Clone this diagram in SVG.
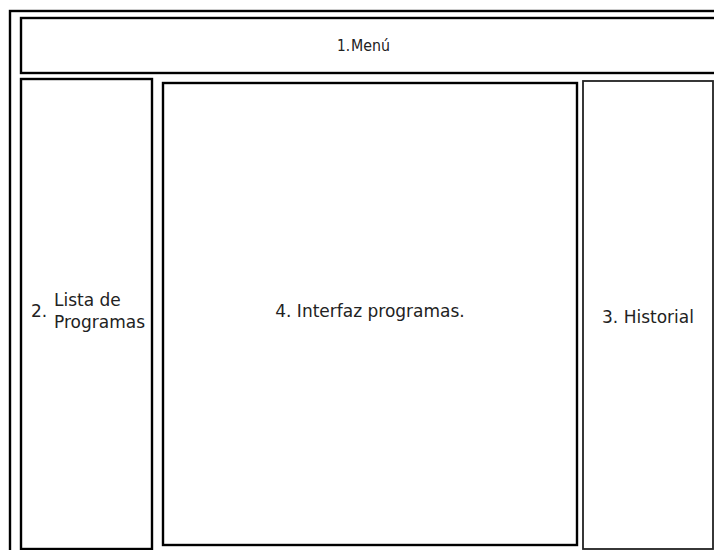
<svg xmlns="http://www.w3.org/2000/svg" width="714" height="550" viewBox="0 0 714 550">
  <style>
    .box { fill: #ffffff; stroke: #000000; stroke-width: 2.4; }
    .thin { fill: #ffffff; stroke: #222222; stroke-width: 1.8; }
    .lbl { font-family: "DejaVu Sans", sans-serif; font-size: 17px; fill: #222222; }
    .small { font-size: 16px; }
  </style>
  <rect width="714" height="550" fill="#ffffff"/>
  <!-- outer window frame -->
  <g id="frame">
    <rect class="box" x="10" y="11" width="720" height="560"/>
  </g>
  <g id="menu">
    <rect class="box" x="21" y="18" width="710" height="55"/>
    <text class="lbl small" x="337" y="51" textLength="13" lengthAdjust="spacingAndGlyphs">1.</text>
    <text class="lbl small" x="351" y="51" textLength="39" lengthAdjust="spacingAndGlyphs">Menú</text>
  </g>
  <g id="lista">
    <rect class="box" x="21" y="79" width="131" height="470"/>
    <text class="lbl" x="31" y="317">2.</text>
    <text class="lbl" x="54" y="306">Lista de</text>
    <text class="lbl" x="54" y="328">Programas</text>
  </g>
  <g id="interfaz">
    <rect class="box" x="163" y="83" width="414" height="462"/>
    <text class="lbl" x="370" y="317" text-anchor="middle">4. Interfaz programas.</text>
  </g>
  <g id="historial">
    <rect class="thin" x="583" y="81" width="130" height="468"/>
    <text class="lbl" x="648" y="323" text-anchor="middle">3. Historial</text>
  </g>
  <g id="connectors"></g>
</svg>
